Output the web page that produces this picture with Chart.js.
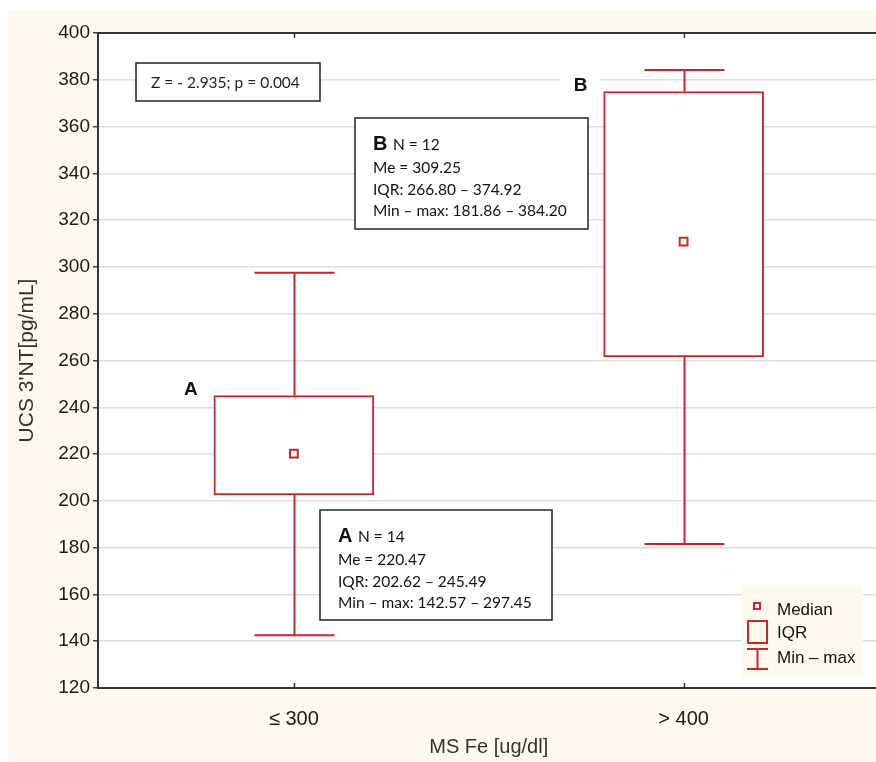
<!DOCTYPE html>
<html><head><meta charset="utf-8">
<script src="https://cdn.jsdelivr.net/npm/chart.js@4.4.1/dist/chart.umd.min.js"></script>
<style>html,body{margin:0;padding:0;background:#fff;overflow:hidden;}canvas{display:block;}</style>
</head><body>
<canvas id="c" width="886" height="762"></canvas>
<script>
// ---- data ----
const categories = ['≤ 300', '> 400'];
const groupLetters = ['A', 'B'];
const q1Values = [202.5, 261.5];
const q3Values = [245.0, 375.0];
const medianValues = [220.2, 310.8];
const minValues = [142.6, 181.6];
const maxValues = [297.5, 384.2];
const yMin = 120, yMax = 400, yStep = 20;
const statText = 'Z = - 2.935; p = 0.004';
const groupNs = ['N = 14', 'N = 12'];
const groupStats = [
  ['Me = 220.47', 'IQR: 202.62 – 245.49', 'Min – max: 142.57 – 297.45'],
  ['Me = 309.25', 'IQR: 266.80 – 374.92', 'Min – max: 181.86 – 384.20']
];
const legendLabels = ['Median', 'IQR', 'Min – max'];
const yTitle = "UCS 3'NT[pg/mL]";
const xTitle = 'MS Fe [ug/dl]';

// ---- styles ----
const RED = '#c4282f';
const CREAM = '#fdf9ee';
const AXF = "'Liberation Sans', Arial, sans-serif";
const BOXF = "Lato, 'Open Sans', sans-serif";
const statBoxes = [ // pixel boxes for annotations (group A, group B)
  {x: 320, y: 510, w: 232, h: 110},
  {x: 355, y: 118, w: 233, h: 111}
];
const zBox = {x: 136, y: 63, w: 184, h: 38};
const legendBox = {x: 742, y: 585, w: 121, h: 92};

const deco = {
  id: 'deco',
  beforeDraw(chart) {
    const {ctx, chartArea: a} = chart;
    ctx.save();
    ctx.fillStyle = '#fff'; ctx.fillRect(0, 0, chart.width, chart.height);
    ctx.fillStyle = CREAM; ctx.fillRect(8, 10, chart.width - 8, chart.height - 10);
    ctx.fillStyle = '#fff'; ctx.fillRect(a.left, a.top, a.right - a.left, a.bottom - a.top);
    ctx.restore();
  },
  beforeDatasetsDraw(chart) {
    const {ctx} = chart;
    const xs = chart.scales.x, ys = chart.scales.y;
    ctx.save();
    ctx.strokeStyle = RED; ctx.lineWidth = 2;
    categories.forEach((c, i) => {
      const x = Math.round(xs.getPixelForValue(i)) + 0.5;
      const pMin = ys.getPixelForValue(minValues[i]);
      const pMax = ys.getPixelForValue(maxValues[i]);
      const p1 = ys.getPixelForValue(q1Values[i]);
      const p3 = ys.getPixelForValue(q3Values[i]);
      ctx.beginPath();
      ctx.moveTo(x, p1); ctx.lineTo(x, pMin);
      ctx.moveTo(x - 40, pMin); ctx.lineTo(x + 40, pMin);
      ctx.moveTo(x, p3); ctx.lineTo(x, pMax);
      ctx.moveTo(x - 40, pMax); ctx.lineTo(x + 40, pMax);
      ctx.stroke();
    });
    // group letters next to boxes
    const meta = chart.getDatasetMeta(1);
    ctx.font = "bold 19px " + AXF;
    ctx.textAlign = 'center'; ctx.textBaseline = 'middle';
    categories.forEach((c, i) => {
      const bar = meta.data[i];
      const lx = bar.x - bar.width / 2 - 23;
      const ly = ys.getPixelForValue(q3Values[i]) - 6;
      ctx.fillStyle = '#fff';
      ctx.fillRect(lx - 21, ly - 14, 40, 30);
      ctx.fillStyle = '#111';
      ctx.fillText(groupLetters[i], lx, ly);
    });
    ctx.restore();
  },
  afterDraw(chart) {
    const {ctx, chartArea: a} = chart;
    const xs = chart.scales.x;
    ctx.save();
    // plot frame
    ctx.strokeStyle = '#333'; ctx.lineWidth = 2;
    ctx.beginPath();
    ctx.moveTo(a.right + 2, a.top); ctx.lineTo(a.left - 1, a.top);
    ctx.lineTo(a.left - 1, a.bottom); ctx.lineTo(a.right + 2, a.bottom);
    ctx.stroke();
    // inner category ticks
    ctx.lineWidth = 1.5;
    categories.forEach((c, i) => {
      const x = Math.round(xs.getPixelForValue(i)) + 0.5;
      ctx.beginPath();
      ctx.moveTo(x, a.bottom); ctx.lineTo(x, a.bottom - 5);
      ctx.moveTo(x, a.top); ctx.lineTo(x, a.top + 5);
      ctx.stroke();
    });
    // Z box
    ctx.fillStyle = '#fff'; ctx.strokeStyle = '#222'; ctx.lineWidth = 1.5;
    ctx.fillRect(zBox.x, zBox.y, zBox.w, zBox.h);
    ctx.strokeRect(zBox.x, zBox.y, zBox.w, zBox.h);
    ctx.fillStyle = '#222'; ctx.textBaseline = 'middle'; ctx.textAlign = 'left';
    ctx.font = "15.5px " + BOXF;
    ctx.fillText(statText, zBox.x + 15, zBox.y + zBox.h / 2 + 1);
    // group stat boxes
    statBoxes.forEach((b, i) => {
      ctx.fillStyle = '#fff'; ctx.strokeStyle = '#222'; ctx.lineWidth = 1.5;
      ctx.fillRect(b.x, b.y, b.w, b.h);
      ctx.strokeRect(b.x, b.y, b.w, b.h);
      ctx.fillStyle = '#111'; ctx.textBaseline = 'alphabetic';
      ctx.font = "bold 20px " + AXF;
      ctx.fillText(groupLetters[i], b.x + 18, b.y + 32);
      ctx.font = "15.5px " + BOXF;
      ctx.fillText(groupNs[i], b.x + 38, b.y + 32);
      groupStats[i].forEach((t, k) => {
        ctx.fillText(t, b.x + 18, b.y + 55 + k * 21.5);
      });
    });
    // legend
    const L = legendBox;
    ctx.fillStyle = CREAM; ctx.fillRect(L.x, L.y, L.w, L.h);
    ctx.strokeStyle = RED; ctx.lineWidth = 2;
    ctx.strokeRect(L.x + 12, L.y + 18, 6, 6);
    ctx.strokeRect(L.x + 6, L.y + 36, 19, 22);
    ctx.beginPath();
    ctx.moveTo(L.x + 15.5, L.y + 64); ctx.lineTo(L.x + 15.5, L.y + 84);
    ctx.moveTo(L.x + 5, L.y + 64); ctx.lineTo(L.x + 26, L.y + 64);
    ctx.moveTo(L.x + 5, L.y + 84); ctx.lineTo(L.x + 26, L.y + 84);
    ctx.stroke();
    ctx.fillStyle = '#111'; ctx.font = "17px " + AXF; ctx.textBaseline = 'alphabetic';
    ctx.fillText(legendLabels[0], L.x + 35, L.y + 30);
    ctx.fillText(legendLabels[1], L.x + 35, L.y + 53);
    ctx.fillText(legendLabels[2], L.x + 35, L.y + 78);
    ctx.restore();
  }
};

new Chart(document.getElementById('c'), {
  type: 'bar',
  data: {
    labels: categories,
    datasets: [
      {
        type: 'line', label: 'Median', data: medianValues, showLine: false,
        pointStyle: 'rect', pointRadius: 5.5, pointBorderWidth: 2,
        pointBackgroundColor: '#fff', pointBorderColor: RED, order: 0
      },
      {
        type: 'bar', label: 'IQR', data: q1Values.map((v, i) => [v, q3Values[i]]),
        backgroundColor: '#fff', borderColor: RED, borderWidth: 2,
        borderSkipped: false, barThickness: 160, order: 1
      }
    ]
  },
  options: {
    responsive: false, animation: false, devicePixelRatio: 1,
    layout: {padding: {top: 33, right: 0, bottom: 0, left: 0}},
    plugins: {legend: {display: false}, tooltip: {enabled: false}},
    scales: {
      x: {
        offset: true,
        grid: {display: false}, border: {display: false},
        ticks: {color: '#1a1a1a', font: {family: AXF, size: 20}, padding: 11},
        title: {display: true, text: xTitle, color: '#333', font: {family: AXF, size: 20}, padding: {top: 0, bottom: 3}},
        afterFit(s) { s.height = 74; }
      },
      y: {
        min: yMin, max: yMax,
        ticks: {stepSize: yStep, color: '#1a1a1a', font: {family: AXF, size: 19}, padding: 3},
        grid: {color: '#dedede', lineWidth: 1.5, tickColor: '#444', tickLength: 6},
        border: {display: false},
        title: {display: true, text: yTitle, color: '#333', font: {family: AXF, size: 21}, padding: {top: 15}},
        afterFit(s) { s.width = 99; }
      }
    }
  },
  plugins: [deco]
});
</script>
</body></html>
